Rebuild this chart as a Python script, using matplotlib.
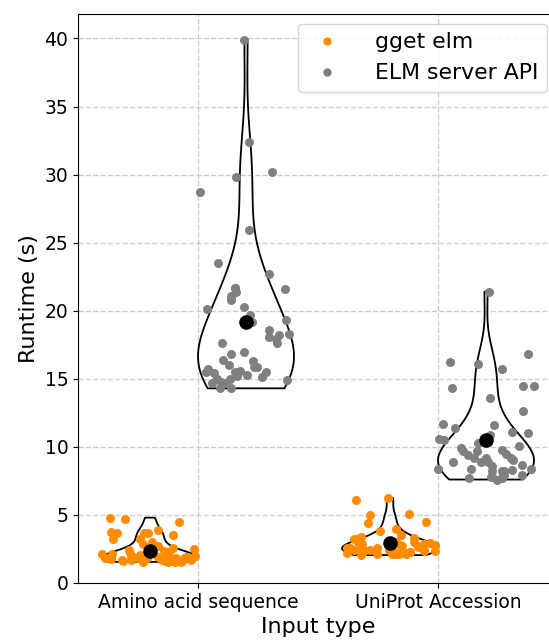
import numpy as np
import matplotlib
matplotlib.use("Agg")
import matplotlib.pyplot as plt
from matplotlib.lines import Line2D

# tempos de execução (s) por tipo de entrada
categorias = ["Amino acid sequence", "UniProt Accession"]
metodos = ["gget elm", "ELM server API"]
cores = ["darkorange", "grey"]

gget_aa = [4.8, 4.7, 4.5, 3.9, 3.75, 3.7, 3.7, 3.67, 3.5, 3.2, 3.2, 3.0, 2.9, 2.7,
           2.6, 2.5, 2.4, 2.35, 2.3, 2.2, 2.1, 2.0, 2.0, 1.95, 1.9, 1.9, 1.85, 1.85,
           1.8, 1.8, 1.8, 1.75, 1.75, 1.7, 1.7, 1.7, 1.7, 1.65, 1.65, 1.6, 1.6, 1.6,
           1.55, 1.55, 1.55, 1.55, 1.9, 2.1, 1.8, 2.05]
elm_aa = [39.9, 32.4, 30.2, 29.8, 28.7, 25.9, 23.5, 22.7, 21.7, 21.7, 21.6, 21.4,
          21.1, 20.8, 20.3, 20.1, 19.7, 19.3, 19.2, 18.6, 18.3, 18.2, 18.1, 17.9,
          17.6, 17.6, 17.0, 16.8, 16.4, 16.3, 16.0, 15.9, 15.9, 15.7, 15.6, 15.5,
          15.5, 15.5, 15.4, 15.3, 15.2, 15.1, 15.0, 15.0, 14.9, 14.8, 14.7, 14.7,
          14.3, 14.3]
gget_up = [6.25, 6.1, 5.05, 5.0, 4.5, 4.4, 4.0, 3.8, 3.5, 3.4, 3.3, 3.3, 3.0, 3.0,
           2.95, 2.9, 2.9, 3.0, 2.8, 2.7, 2.8, 2.75, 2.7, 2.65, 2.6, 2.6, 2.55, 2.5,
           2.5, 2.45, 2.45, 2.4, 2.4, 2.35, 2.35, 2.3, 2.3, 2.25, 2.25, 2.2, 2.2,
           2.15, 2.15, 2.1, 2.1, 2.1, 2.1, 2.05, 3.1, 3.2]
elm_up = [21.4, 16.8, 16.2, 16.1, 15.7, 14.5, 14.5, 14.3, 13.6, 12.6, 11.7, 11.6,
          11.4, 11.1, 11.0, 10.9, 10.6, 10.5, 10.3, 10.1, 9.9, 9.8, 9.7, 9.7, 9.5,
          9.4, 9.2, 9.2, 9.2, 9.0, 8.9, 8.9, 8.9, 8.7, 8.6, 8.4, 8.4, 8.4, 8.3, 8.2,
          8.2, 8.2, 7.9, 7.9, 7.8, 7.8, 7.7, 7.7, 7.7, 7.6]

dados = {("gget elm", 0): gget_aa, ("ELM server API", 0): elm_aa,
         ("gget elm", 1): gget_up, ("ELM server API", 1): elm_up}

fig = plt.figure(figsize=(5.49, 6.41), dpi=100)
ax = fig.add_axes([0.1421, 0.0905, 0.8743, 0.8877])
ax.set_axisbelow(True)
ax.grid(True, linestyle="--", color="#cccccc", linewidth=1)

rng = np.random.default_rng(3)
desloc = [-0.2, 0.2]
for j, (m, c) in enumerate(zip(metodos, cores)):
    for i in range(len(categorias)):
        y = np.array(dados[(m, i)])
        pos = i + desloc[j]
        vp = ax.violinplot([y], positions=[pos], widths=0.4, showextrema=False,
                           bw_method=0.52)
        for corpo in vp["bodies"]:
            corpo.set_facecolor("none")
            corpo.set_edgecolor("black")
            corpo.set_linewidth(1.3)
            corpo.set_alpha(1)
            corpo.set_zorder(2)
        x = pos + rng.uniform(-0.2, 0.2, len(y))
        ax.scatter(x, y, s=42, color=c, zorder=3, linewidths=0)
        ax.scatter([pos], [y.mean()], s=110, color="black", zorder=4, linewidths=0)

ax.set_xticks(range(len(categorias)))
ax.set_xticklabels(categorias, fontsize=13.5)
ax.set_xlim(-0.5, 1.5)
ax.set_ylim(0, 41.8)
ax.set_yticks(range(0, 41, 5))
ax.tick_params(axis="y", labelsize=13.5)
ax.set_xlabel("Input type", fontsize=16)
ax.set_ylabel("Runtime (s)", fontsize=16)

handles = [Line2D([], [], marker="o", ls="", color=c, markersize=5) for c in cores]
ax.legend(handles, metodos, loc="upper right", bbox_to_anchor=(0.977, 0.983),
          borderaxespad=0, fontsize=15.8, handlelength=1.8, handletextpad=1.3)

fig.savefig("out.png", dpi=100)
